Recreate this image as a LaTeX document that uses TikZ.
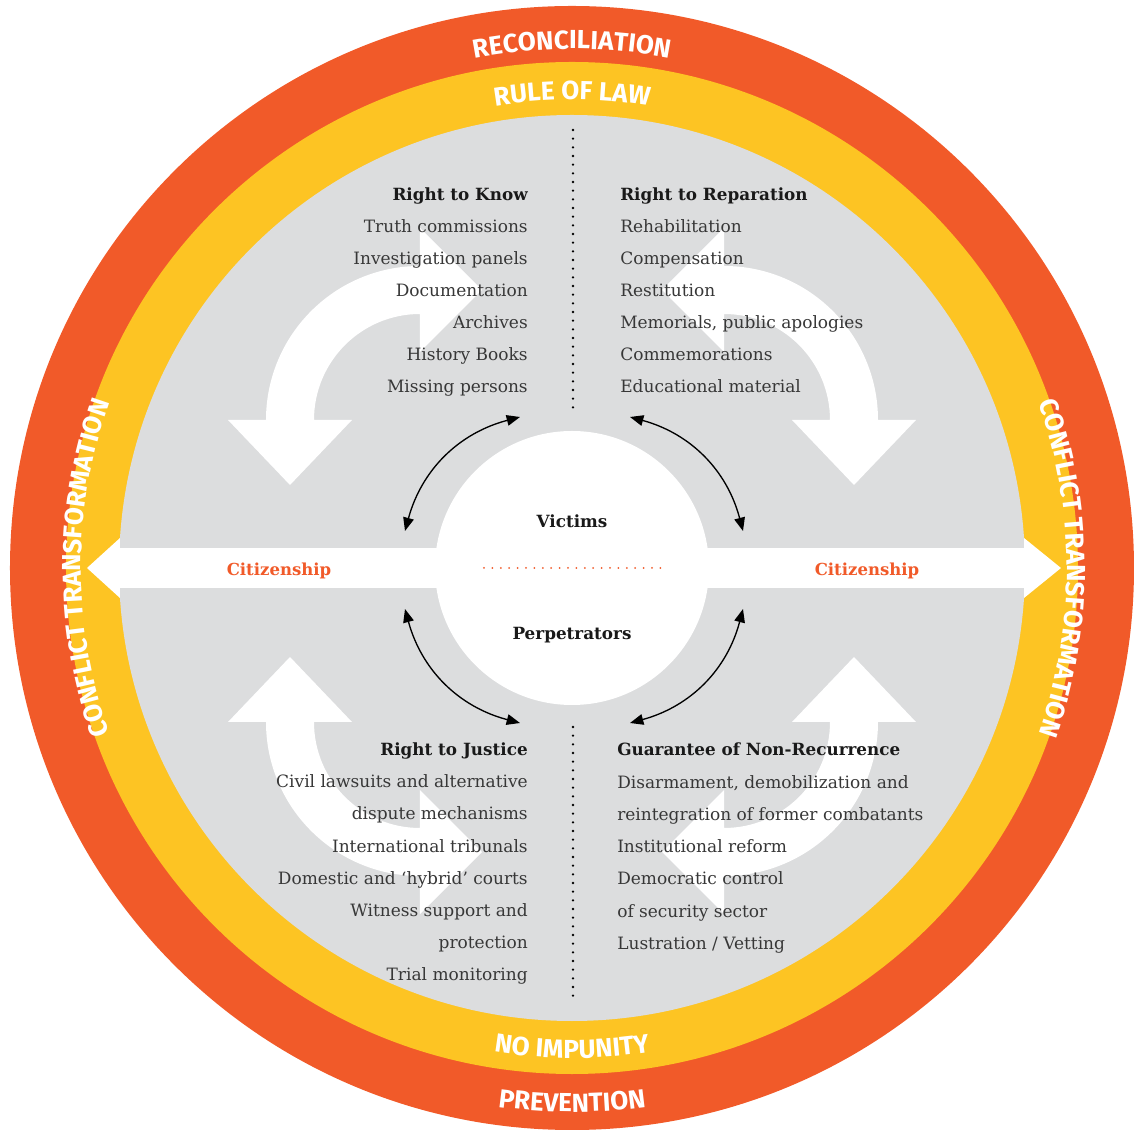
\documentclass[tikz,border=0pt]{standalone}
\usepackage{fontspec}
\setmainfont{DejaVu Serif}
\newfontfamily\ringfont{Fira Sans}
\usetikzlibrary{decorations.text, arrows.meta}
\definecolor{ringred}{RGB}{241,90,41}
\definecolor{ringyellow}{RGB}{253,196,35}
\definecolor{coregray}{RGB}{220,221,222}
\definecolor{bodytext}{RGB}{55,55,55}
\newcommand{\ringfmt}{\ringfont\bfseries\fontsize{19.6}{22}\selectfont}
\begin{document}
\begin{tikzpicture}[x=0.75pt,y=0.75pt,
  body/.style={font=\fontsize{12.75}{15}\selectfont, text=bodytext, inner sep=0pt},
  head/.style={font=\bfseries\fontsize{12.6}{15}\selectfont, text=black!90, inner sep=0pt},
  cit/.style={font=\bfseries\fontsize{12.4}{15}\selectfont, text=ringred, inner sep=0pt},
  twoway/.style={line width=1pt, {Triangle[length=10pt,width=8pt]}-{Triangle[length=10pt,width=8pt]}},
  blackdots/.style={line width=1.9pt, line cap=round, dash pattern=on 0pt off 6.5pt},
  reddots/.style={line width=1.5pt, line cap=round, ringred, dash pattern=on 0pt off 6.3pt},
  ringlabel/.style={decorate, decoration={text along path, text align=center, text color=white, text={|\ringfmt|#1}}}
]
\useasboundingbox (-572,-562) rectangle (562,568);
% rings
\fill[ringred] (0,0) circle[radius=562];
\fill[ringyellow] (0,0) circle[radius=506];
\fill[coregray] (0,0) circle[radius=453];
% big white curved arrows
\foreach \sx/\sy/\cx/\cy in {1/1/-152/148, -1/1/152/148, 1/-1/-152/-154, -1/-1/152/-154}{
  \begin{scope}[shift={(\cx,\cy)}, xscale=\sx, yscale=\sy]
    \fill[white] (0,154) arc[start angle=90, end angle=180, radius=154]
      -- (-192,0) -- (-130,-65) -- (-68,0) -- (-106,0)
      arc[start angle=180, end angle=90, radius=106]
      -- (0,68) -- (62,130) -- (0,192) -- cycle;
  \end{scope}
}
% citizenship band
\begin{scope}
  \clip (0,0) circle[radius=453];
  \fill[white] (-460,-20) rectangle (460,20);
\end{scope}
\fill[white] (-452,30) -- (-485,0) -- (-452,-30) -- cycle;
\fill[white] (452,30) -- (489,0) -- (452,-30) -- cycle;
% central circle
\node[circle, fill=white, minimum size=274*0.75pt, inner sep=0pt] (core) at (0,0) {};
% dotted separators
\coordinate (vt1) at (1,438); \coordinate (vt2) at (1,160);
\coordinate (vb1) at (1,-159); \coordinate (vb2) at (1,-434);
\draw[blackdots] (vt1) -- (vt2);
\draw[blackdots] (vb1) -- (vb2);
\coordinate (hd1) at (-88,0); \coordinate (hd2) at (90,0);
\draw[reddots] (hd1) -- (hd2);
% two-way arrows
\coordinate (tl1) at (-167,37); \coordinate (tl2) at (-52,151);
\coordinate (tr1) at (58,151); \coordinate (tr2) at (171,37);
\coordinate (bl1) at (-167,-41); \coordinate (bl2) at (-52,-155);
\coordinate (br1) at (58,-155); \coordinate (br2) at (171,-41);
\draw[twoway] (tl1) to[bend left=30] (tl2);
\draw[twoway] (tr1) to[bend left=30] (tr2);
\draw[twoway] (bl1) to[bend right=30] (bl2);
\draw[twoway] (br1) to[bend right=30] (br2);
% centre labels
\node[head, anchor=base] (victims) at (0,40) {Victims};
\node[head, anchor=base] (perps) at (0,-72) {Perpetrators};
\node[cit, anchor=base] (citl) at (-293,-8) {Citizenship};
\node[cit, anchor=base] (citr) at (295,-8) {Citizenship};
% quadrant texts
\node[head, anchor=base east] (knowh) at (-44,367) {Right to Know};
\foreach \t [count=\i from 1] in {Truth commissions, Investigation panels, Documentation, Archives, History Books, Missing persons}
  \node[body, anchor=base east] (know\i) at (-44,367-32*\i) {\t};
\node[head, anchor=base west] (reph) at (48,367) {Right to Reparation};
\foreach \t [count=\i from 1] in {Rehabilitation, Compensation, Restitution, {Memorials, public apologies}, Commemorations, Educational material}
  \node[body, anchor=base west] (rep\i) at (48,367-32*\i) {\t};
\node[head, anchor=base east] (justh) at (-44,-188) {Right to Justice};
\foreach \t [count=\i from 1] in {Civil lawsuits and alternative, dispute mechanisms, International tribunals, Domestic and ‘hybrid’ courts, Witness support and, protection, Trial monitoring}
  \node[body, anchor=base east] (just\i) at (-44,-188-32*\i) {\t};
\node[head, anchor=base west] (gnrh) at (45,-188) {Guarantee of Non-Recurrence};
\foreach \t [count=\i from 1] in {{Disarmament, demobilization and}, reintegration of former combatants, Institutional reform, Democratic control, of security sector, Lustration / Vetting}
  \node[body, anchor=base west] (gnr\i) at (45,-188-32.2*\i) {\t};
% ring labels
\path[ringlabel=RECONCILIATION] (150:519) arc[start angle=150, end angle=30, radius=519];
\path[ringlabel=RULE OF LAW] (150:468) arc[start angle=150, end angle=30, radius=468];
\path[ringlabel=NO IMPUNITY] (210:490) arc[start angle=210, end angle=330, radius=490];
\path[ringlabel=PREVENTION] (210:544) arc[start angle=210, end angle=330, radius=544];
\path[ringlabel=CONFLICT TRANSFORMATION] (220:491) arc[start angle=220, end angle=140, radius=491];
\path[ringlabel=CONFLICT TRANSFORMATION] (40:495) arc[start angle=40, end angle=-40, radius=495];
\end{tikzpicture}
\end{document}
